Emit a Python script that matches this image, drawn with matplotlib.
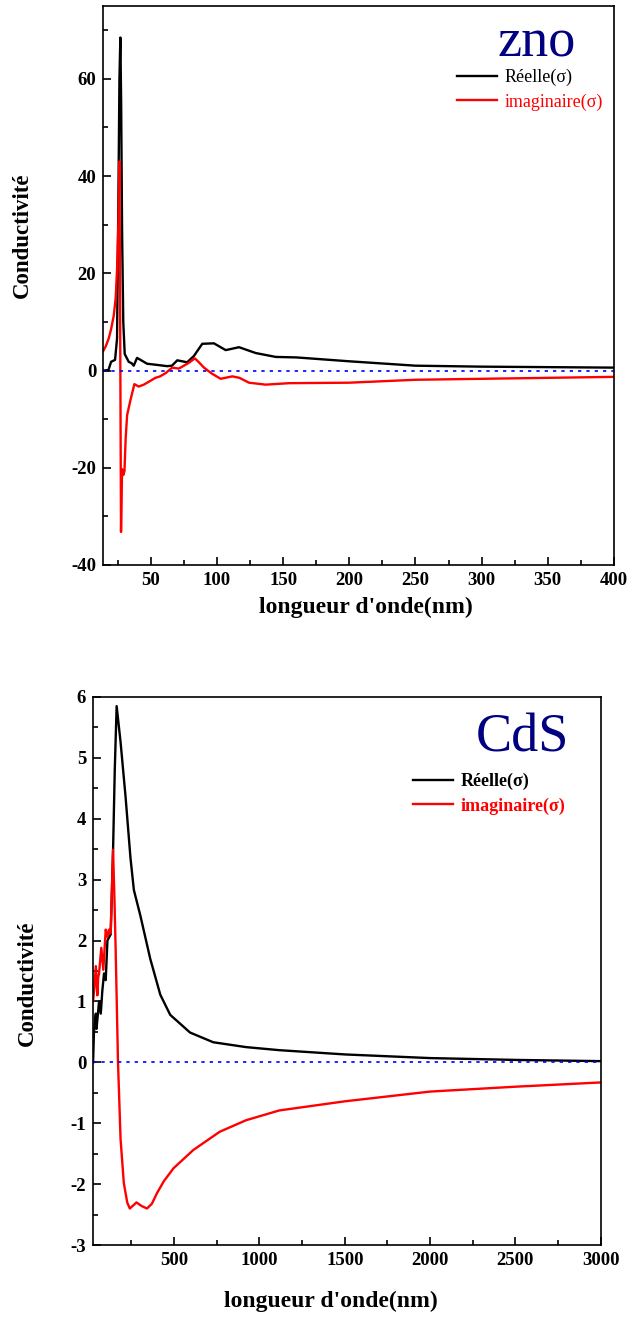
import numpy as np
import matplotlib
matplotlib.use('Agg')
import matplotlib.pyplot as plt
from matplotlib.ticker import MultipleLocator

plt.rcParams['font.family'] = ['Liberation Serif', 'DejaVu Serif']
plt.rcParams['axes.unicode_minus'] = False

# ZnO panel
zno_x_re = [14, 18, 20, 23, 24.5, 25.5, 26.3, 27, 27.6, 28.3, 29.2, 30.3, 33.3, 35.5, 37.1,
            39.6, 42.2, 47.2, 53.5, 62.4, 66, 70, 77.5, 82.6, 88.9, 97.7, 106.6, 116.7,
            129.3, 144.4, 160, 200, 250, 300, 350, 400]
zno_re = [0, 0.1, 1.8, 2.2, 6.6, 35, 60, 68.5, 55, 28.7, 10, 3.4, 1.8, 1.5, 1.0,
          2.6, 2.2, 1.4, 1.2, 0.9, 1.0, 2.1, 1.7, 3.0, 5.5, 5.6, 4.2, 4.8,
          3.6, 2.8, 2.7, 1.9, 1.0, 0.8, 0.7, 0.6]

zno_x_im = [14, 16, 18.2, 20, 22, 23.5, 24.5, 25.5, 26.3, 26.7, 27, 27.5, 28.3, 29.2, 30.1,
            31, 32.1, 34.6, 37.6, 40.9, 44.7, 49.8, 53.5, 57, 61.1, 66.2, 71.2, 78.8, 83.3,
            86, 90.2, 96, 102.8, 111.6, 117, 124.2, 136.9, 154.5, 200, 250, 300, 350, 400]
zno_im = [4.0, 5.0, 6.6, 8.5, 11.3, 15, 20.8, 30, 43, 20, 0, -33.2, -20.3, -21.5, -20.7,
          -14, -9.2, -6.1, -2.8, -3.3, -2.9, -2.1, -1.5, -1.2, -0.55, 0.6, 0.4, 1.6, 2.5,
          1.8, 0.6, -0.6, -1.7, -1.2, -1.5, -2.5, -2.9, -2.6, -2.5, -1.9, -1.7, -1.5, -1.3]

# CdS panel
cds_x_re = [25, 30, 41, 45, 50, 60, 70, 79, 89, 99, 109, 118, 128, 142, 152, 163, 186, 215,
            244, 264, 302, 360, 419, 477, 593, 729, 922, 1116, 1500, 2000, 2500, 3000]
cds_re = [0, 0.5, 0.8, 0.55, 0.7, 1.0, 0.8, 1.17, 1.46, 1.35, 2.0, 2.05, 2.1, 3.48, 4.8, 5.85,
          5.26, 4.37, 3.36, 2.83, 2.41, 1.70, 1.11, 0.78, 0.49, 0.33, 0.25, 0.2, 0.13, 0.07,
          0.04, 0.02]

cds_x_im = [25, 33, 41, 50, 55, 60, 73, 85, 99, 109, 118, 128, 142, 150, 157, 171, 186, 205,
            225, 240, 260, 279, 310, 341, 370, 399, 440, 496, 612, 767, 922, 1116, 1500,
            2000, 2500, 3000]
cds_im = [1.0, 1.25, 1.58, 1.1, 1.4, 1.46, 1.88, 1.52, 2.18, 2.06, 2.18, 2.12, 3.49, 2.7, 1.88,
          0, -1.26, -1.98, -2.3, -2.40, -2.35, -2.30, -2.36, -2.40, -2.32, -2.15, -1.95,
          -1.74, -1.44, -1.14, -0.95, -0.79, -0.64, -0.48, -0.40, -0.33]


def style_axes(ax):
    ax.tick_params(which='both', direction='in', width=1.2)
    ax.tick_params(which='major', length=5.5, labelsize=13.5, pad=5)
    ax.tick_params(which='minor', length=3.5)
    for lab in ax.get_xticklabels() + ax.get_yticklabels():
        lab.set_fontweight('bold')
    for sp in ax.spines.values():
        sp.set_linewidth(1.2)


fig = plt.figure(figsize=(6.29, 13.21), dpi=100)

# top: ZnO
ax1 = fig.add_axes([0.164, 0.5723, 0.812, 0.4232])
ax1.plot(zno_x_re, zno_re, color='black', lw=1.7, label='Réelle(σ)')
ax1.plot(zno_x_im, zno_im, color='red', lw=1.7, label='imaginaire(σ)')
ax1.axhline(0, color='blue', lw=1.2, ls=(0, (2, 3)))
ax1.set_xlim(14, 400)
ax1.set_ylim(-40, 75)
ax1.set_xticks(np.arange(50, 401, 50))
ax1.xaxis.set_minor_locator(MultipleLocator(25))
ax1.set_yticks(np.arange(-40, 61, 20))
ax1.yaxis.set_minor_locator(MultipleLocator(10))
style_axes(ax1)
ax1.set_xlabel("longueur d'onde(nm)", fontsize=17, fontweight='bold')
ax1.xaxis.set_label_coords(0.515, -0.057)
ax1.xaxis.label.set_va('top')
ax1.set_ylabel("Conductivité", fontsize=16.5, fontweight='bold')
ax1.yaxis.set_label_coords(-0.137, 0.59)
ax1.text(0.849, 0.934, 'zno', transform=ax1.transAxes, fontsize=39, color='#000080',
         ha='center', va='center')
ax1.legend(loc='upper left', bbox_to_anchor=(0.693, 0.887), frameon=False, fontsize=13,
           handlelength=2.2, handletextpad=0.45, labelspacing=0.38, labelcolor='linecolor',
           borderaxespad=0, borderpad=0)

# bottom: CdS
ax2 = fig.add_axes([0.148, 0.0575, 0.807, 0.4149])
ax2.plot(cds_x_re, cds_re, color='black', lw=1.7, label='Réelle(σ)')
ax2.plot(cds_x_im, cds_im, color='red', lw=1.7, label='imaginaire(σ)')
ax2.axhline(0, color='blue', lw=1.2, ls=(0, (2, 3)))
ax2.set_xlim(25, 3000)
ax2.set_ylim(-3, 6)
ax2.set_xticks(np.arange(500, 3001, 500))
ax2.xaxis.set_minor_locator(MultipleLocator(250))
ax2.set_yticks(np.arange(-3, 7, 1))
ax2.yaxis.set_minor_locator(MultipleLocator(0.5))
style_axes(ax2)
ax2.set_xlabel("longueur d'onde(nm)", fontsize=17, fontweight='bold')
ax2.xaxis.set_label_coords(0.468, -0.084)
ax2.xaxis.label.set_va('top')
ax2.set_ylabel("Conductivité", fontsize=16.5, fontweight='bold')
ax2.yaxis.set_label_coords(-0.108, 0.478)
ax2.text(0.845, 0.925, 'CdS', transform=ax2.transAxes, fontsize=39, color='#000080',
         ha='center', va='center')
ax2.legend(loc='upper left', bbox_to_anchor=(0.63, 0.861), frameon=False,
           handlelength=2.2, handletextpad=0.45, labelspacing=0.38,
           labelcolor='linecolor', borderaxespad=0, borderpad=0,
           prop={'weight': 'bold', 'size': 13})

fig.savefig('out.png', dpi=100)
